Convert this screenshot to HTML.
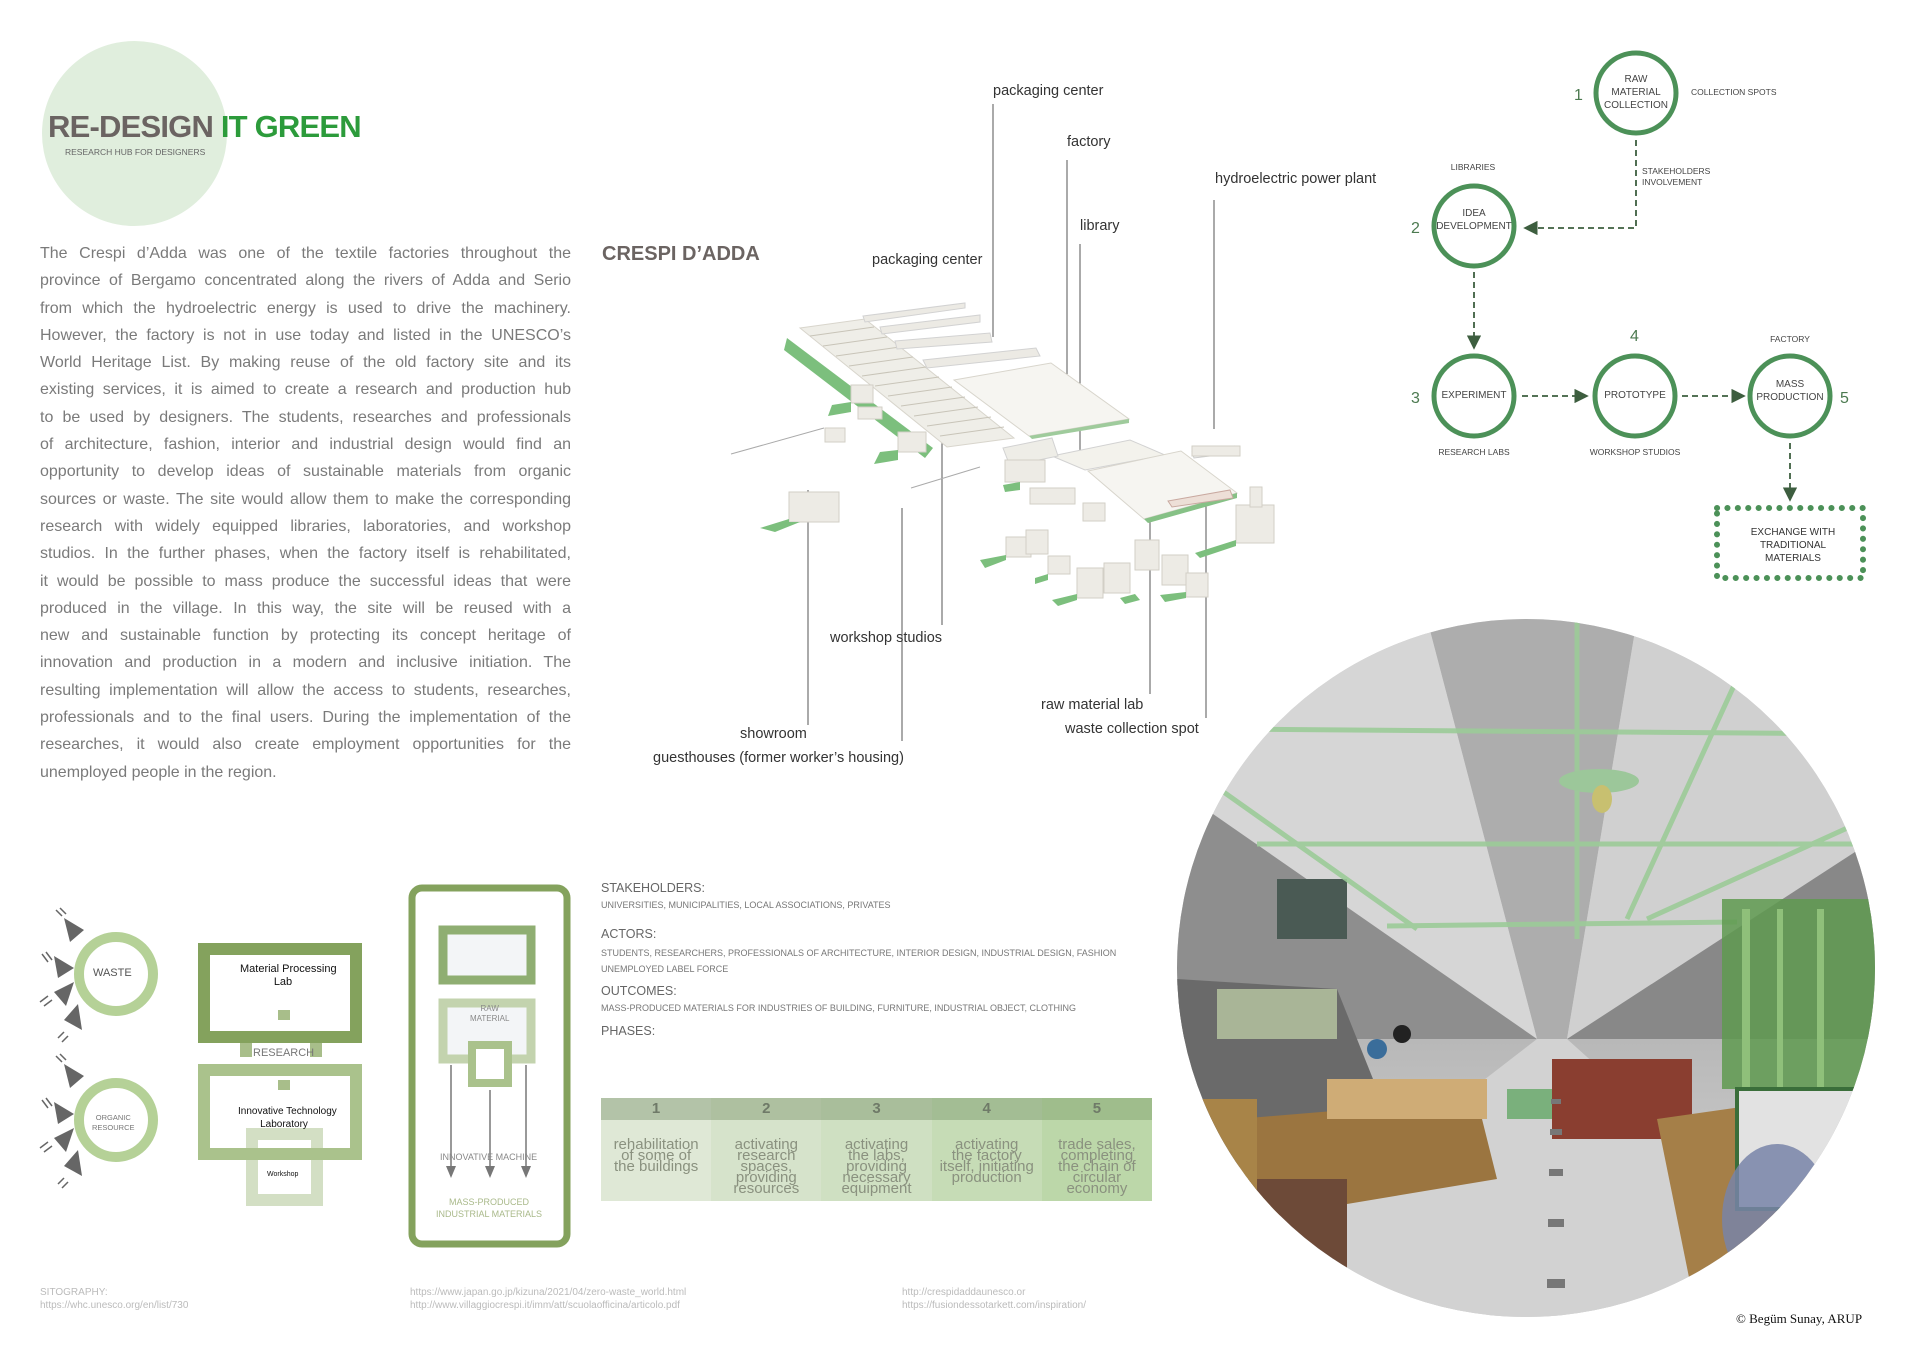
<!DOCTYPE html>
<html><head><meta charset="utf-8">
<style>
*{margin:0;padding:0;box-sizing:border-box}
body{width:1920px;height:1357px;background:#fff;position:relative;overflow:hidden;font-family:"Liberation Sans",sans-serif;color:#666}
.a{position:absolute;white-space:nowrap}
.para{position:absolute;left:40px;top:240px;width:531px;font-size:16px;color:#7a7a7a;line-height:27.3px}
.para div{text-align:justify;text-align-last:justify;white-space:nowrap;overflow:visible}
.para div.l{text-align-last:left}
.lbl{position:absolute;font-size:14.5px;color:#333;white-space:nowrap}
.fl{position:absolute;font-size:10px;color:#444;white-space:nowrap;text-align:center}
</style></head><body>

<!-- Title -->
<div class="a" style="left:42px;top:41px;width:185px;height:185px;border-radius:50%;background:#e0eedd"></div>
<div class="a" style="left:48px;top:109px;font-size:31px;font-weight:bold;color:#6b6462;letter-spacing:-0.8px">RE-DESIGN <span style="color:#2c9b3b">IT GREEN</span></div>
<div class="a" style="left:65px;top:147px;font-size:8.5px;color:#666">RESEARCH HUB FOR DESIGNERS</div>

<div class="para">
<div>The Crespi d’Adda was one of the textile factories throughout the</div>
<div>province of Bergamo concentrated along the rivers of Adda and Serio</div>
<div>from which the hydroelectric energy is used to drive the machinery.</div>
<div>However, the factory is not in use today and listed in the UNESCO’s</div>
<div>World Heritage List. By making reuse of the old factory site and its</div>
<div>existing services, it is aimed to create a research and production hub</div>
<div>to be used by designers. The students, researches and professionals</div>
<div>of architecture, fashion, interior and industrial design would find an</div>
<div>opportunity to develop ideas of sustainable materials from organic</div>
<div>sources or waste. The site would allow them to make the corresponding</div>
<div>research with widely equipped libraries, laboratories, and workshop</div>
<div>studios. In the further phases, when the factory itself is rehabilitated,</div>
<div>it would be possible to mass produce the successful ideas that were</div>
<div>produced in the village. In this way, the site will be reused with a</div>
<div>new and sustainable function by protecting its concept heritage of</div>
<div>innovation and production in a modern and inclusive initiation. The</div>
<div>resulting implementation will allow the access to students, researches,</div>
<div>professionals and to the final users. During the implementation of the</div>
<div>researches, it would also create employment opportunities for the</div>
<div class="l">unemployed people in the region.</div>
</div>

<!-- Map -->
<div class="a" style="left:602px;top:243px;font-size:20px;font-weight:bold;color:#6b6462">CRESPI D’ADDA</div>
<svg class="a" style="left:0;top:0" width="1920" height="1357">
<g stroke="#555" stroke-width="1">
<line x1="993" y1="104" x2="993" y2="337"/>
<line x1="1067" y1="160" x2="1067" y2="392"/>
<line x1="1214" y1="200" x2="1214" y2="429"/>
<line x1="1080" y1="244" x2="1080" y2="459"/>
<line x1="942" y1="416" x2="942" y2="625"/>
<line x1="808" y1="490" x2="808" y2="725"/>
<line x1="902" y1="508" x2="902" y2="741"/>
<line x1="1150" y1="459" x2="1150" y2="694"/>
<line x1="1206" y1="484" x2="1206" y2="718"/>
</g>
<g>
<line x1="731" y1="454" x2="824" y2="428" stroke="#aaa"/>
<line x1="911" y1="488" x2="980" y2="467" stroke="#aaa"/>
<polygon points="787,338 933,448 925,458 784,350" fill="#7cbf7d"/>
<polygon points="800,328 865,319 1014,438 947,447" fill="#efeee8" stroke="#d8d5cc"/>
<g stroke="#c8c4b8" stroke-width="1">
<line x1="810" y1="336" x2="874" y2="327"/><line x1="823" y1="346" x2="887" y2="337"/><line x1="836" y1="356" x2="900" y2="347"/><line x1="849" y1="366" x2="913" y2="357"/><line x1="862" y1="376" x2="926" y2="367"/><line x1="875" y1="386" x2="939" y2="377"/><line x1="888" y1="396" x2="952" y2="387"/><line x1="901" y1="406" x2="965" y2="397"/><line x1="914" y1="416" x2="978" y2="407"/><line x1="927" y1="426" x2="991" y2="417"/><line x1="940" y1="436" x2="1004" y2="427"/>
</g>
<polygon points="863,316 965,303 965,308 865,322" fill="#eceae4" stroke="#d2d2d2"/>
<polygon points="880,327 980,315 980,322 882,334" fill="#eceae4" stroke="#d2d2d2"/>
<polygon points="895,341 990,333 992,342 897,349" fill="#eceae4" stroke="#d2d2d2"/>
<polygon points="923,360 1036,348 1040,356 927,368" fill="#eceae4" stroke="#d2d2d2"/>
<polygon points="954,380 1051,363 1129,419 1029,436" fill="#f6f5f1" stroke="#d8d5cc"/>
<polygon points="1029,436 1129,419 1129,423 1032,439" fill="#9fcb9c"/>
<polygon points="1052,456 1130,440 1165,455 1085,470" fill="#f3f2ec" stroke="#d2d2d2"/>
<polygon points="1088,471 1181,451 1237,493 1144,519" fill="#f6f5f1" stroke="#d8d5cc"/>
<polygon points="1144,519 1237,493 1237,498 1148,523" fill="#86c186"/>
<polygon points="1192,452 1234,446 1234,453 1194,458" fill="#f0f0f0" stroke="#ccc"/>
<polygon points="1168,501 1230,490 1233,498 1172,507" fill="#eddfd7" stroke="#c9a9a0"/>
<polygon points="1003,448 1052,438 1058,456 1010,466" fill="#eeede7" stroke="#d2d2d2"/>
<g fill="#edebe5" stroke="#d2cfc6">
<rect x="851" y="385" width="22" height="18"/><rect x="858" y="407" width="24" height="12"/>
<rect x="898" y="432" width="28" height="20"/><rect x="825" y="428" width="20" height="14"/>
<rect x="1005" y="460" width="40" height="22"/><rect x="1030" y="488" width="45" height="16"/>
<rect x="1083" y="503" width="22" height="18"/>
<rect x="789" y="492" width="50" height="30"/>
<rect x="1006" y="537" width="25" height="20"/><rect x="1026" y="530" width="22" height="24"/>
<rect x="1048" y="556" width="22" height="18"/>
<rect x="1077" y="568" width="26" height="30"/><rect x="1104" y="563" width="26" height="30"/>
<rect x="1135" y="540" width="24" height="30"/><rect x="1162" y="555" width="26" height="30"/><rect x="1186" y="573" width="22" height="24"/>
<rect x="1236" y="505" width="38" height="38"/><rect x="1250" y="487" width="12" height="20"/>
<rect x="1192" y="446" width="48" height="10"/>
</g>
<g fill="#7cbf7d">
<polygon points="832,405 851,402 851,412 828,416"/>
<polygon points="880,452 898,450 898,460 874,464"/>
<polygon points="760,528 789,519 789,522 800,522 775,532"/>
<polygon points="980,560 1006,555 1006,560 985,568"/>
<polygon points="1035,578 1048,574 1048,580 1035,584"/>
<polygon points="1052,600 1077,594 1077,600 1058,606"/>
<polygon points="1120,598 1135,594 1140,600 1125,604"/>
<polygon points="1160,595 1186,592 1186,598 1165,602"/>
<polygon points="1195,553 1236,540 1236,546 1200,558"/>
<polygon points="1003,485 1020,482 1020,490 1005,492"/>
</g>
</g>
</svg>
<div class="lbl" style="left:993px;top:83px">packaging center</div>
<div class="lbl" style="left:1067px;top:134px">factory</div>
<div class="lbl" style="left:1215px;top:171px">hydroelectric power plant</div>
<div class="lbl" style="left:1080px;top:218px">library</div>
<div class="lbl" style="left:872px;top:252px">packaging center</div>
<div class="lbl" style="left:830px;top:630px">workshop studios</div>
<div class="lbl" style="left:740px;top:726px">showroom</div>
<div class="lbl" style="left:653px;top:750px">guesthouses (former worker’s housing)</div>
<div class="lbl" style="left:1041px;top:697px">raw material lab</div>
<div class="lbl" style="left:1065px;top:721px">waste collection spot</div>

<!-- Flow diagram -->
<svg class="a" style="left:0;top:0" width="1920" height="1357">
<defs><marker id="ar" markerWidth="8" markerHeight="8" refX="7" refY="4" orient="auto"><path d="M0,0 L8,4 L0,8 z" fill="#3d5e3f"/></marker></defs>
<g fill="none" stroke="#4c9158" stroke-width="5">
<circle cx="1636" cy="93" r="40"/><circle cx="1474" cy="226" r="40"/>
<circle cx="1474" cy="396" r="40"/><circle cx="1635" cy="396" r="40"/><circle cx="1790" cy="396" r="40"/>
</g>
<g fill="none" stroke="#3d5e3f" stroke-width="1.8" stroke-dasharray="6,4">
<polyline points="1636,140 1636,228 1525,228" marker-end="url(#ar)"/>
<line x1="1474" y1="272" x2="1474" y2="348" marker-end="url(#ar)"/>
<line x1="1522" y1="396" x2="1587" y2="396" marker-end="url(#ar)"/>
<line x1="1682" y1="396" x2="1744" y2="396" marker-end="url(#ar)"/>
<line x1="1790" y1="443" x2="1790" y2="500" marker-end="url(#ar)"/>
</g>
<rect x="1717" y="508" width="146" height="70" fill="none" stroke="#4c9158" stroke-width="6" stroke-dasharray="0.1,10.3" stroke-linecap="round"/>
<g fill="#4c7a50" font-family="Liberation Sans" font-size="16">
<text x="1574" y="100">1</text><text x="1411" y="233">2</text><text x="1411" y="403">3</text><text x="1630" y="341">4</text><text x="1840" y="403">5</text>
</g>
</svg>
<div class="fl" style="left:1596px;top:73px;width:80px;line-height:13px">RAW<br>MATERIAL<br>COLLECTION</div>
<div class="fl" style="left:1691px;top:87px;font-size:8.5px">COLLECTION SPOTS</div>
<div class="fl" style="left:1440px;top:162px;font-size:8.5px;width:66px">LIBRARIES</div>
<div class="fl" style="left:1642px;top:166px;font-size:8.5px;text-align:left;line-height:11px">STAKEHOLDERS<br>INVOLVEMENT</div>
<div class="fl" style="left:1430px;top:207px;width:88px;line-height:13px">IDEA<br>DEVELOPMENT</div>
<div class="fl" style="left:1430px;top:390px;width:88px">EXPERIMENT</div>
<div class="fl" style="left:1591px;top:390px;width:88px">PROTOTYPE</div>
<div class="fl" style="left:1746px;top:378px;width:88px;line-height:13px">MASS<br>PRODUCTION</div>
<div class="fl" style="left:1750px;top:334px;font-size:8.5px;width:80px">FACTORY</div>
<div class="fl" style="left:1424px;top:447px;font-size:8.5px;width:100px">RESEARCH LABS</div>
<div class="fl" style="left:1582px;top:447px;font-size:8.5px;width:106px">WORKSHOP STUDIOS</div>
<div class="fl" style="left:1730px;top:526px;width:126px;line-height:13px;color:#333">EXCHANGE WITH<br>TRADITIONAL<br>MATERIALS</div>

<!-- Photo circle -->
<svg class="a" style="left:1177px;top:619px" width="698" height="698">
<defs>
<clipPath id="cc"><circle cx="349" cy="349" r="349"/></clipPath>
<linearGradient id="flr" x1="0" y1="0" x2="0" y2="1"><stop offset="0" stop-color="#b8b8b8"/><stop offset="1" stop-color="#dadada"/></linearGradient>
</defs>
<g clip-path="url(#cc)">
<rect width="698" height="698" fill="#cfcfcf"/>
<polygon points="250,0 460,0 390,420 360,420" fill="#9e9e9e" opacity="0.7"/>
<polygon points="0,0 250,0 360,420 0,350" fill="#d6d6d6"/>
<polygon points="460,0 698,0 698,300 390,420" fill="#d0d0d0"/>
<polygon points="0,170 360,420 0,420" fill="#8e8e8e"/>
<polygon points="698,220 390,420 698,420" fill="#888"/>
<polygon points="0,420 698,420 698,698 0,698" fill="url(#flr)"/>
<polygon points="360,420 390,420 700,698 0,698" fill="#d2d2d2"/>
<polygon points="0,360 160,370 220,520 0,560" fill="#6a6a6a"/>
<rect x="40" y="370" width="120" height="50" fill="#a9b597"/>
<rect x="100" y="260" width="70" height="60" fill="#4a5a54"/>
<g stroke="#9ccb98" stroke-width="5" fill="none" opacity="0.9">
<line x1="40" y1="110" x2="698" y2="115"/><line x1="80" y1="225" x2="698" y2="225"/><line x1="210" y1="307" x2="560" y2="303"/>
<line x1="400" y1="0" x2="400" y2="320"/><line x1="560" y1="60" x2="450" y2="300"/><line x1="690" y1="200" x2="470" y2="300"/>
<line x1="0" y1="140" x2="240" y2="310"/>
</g>
<ellipse cx="422" cy="162" rx="40" ry="12" fill="#9cc79a"/>
<ellipse cx="425" cy="180" rx="10" ry="14" fill="#c8c070"/>
<rect x="545" y="280" width="153" height="190" fill="#5f9a50" opacity="0.85"/>
<rect x="565" y="290" width="8" height="180" fill="#8fc07a"/><rect x="600" y="290" width="6" height="180" fill="#8fc07a"/><rect x="640" y="290" width="7" height="180" fill="#8fc07a"/>
<polygon points="60,500 300,480 320,560 80,600" fill="#9b7540"/>
<rect x="150" y="460" width="160" height="40" fill="#cfac76"/>
<rect x="60" y="560" width="110" height="90" fill="#6d4a38"/>
<rect x="0" y="480" width="80" height="150" fill="#a88448"/>
<rect x="330" y="470" width="45" height="30" fill="#7ab07c"/>
<rect x="375" y="440" width="140" height="80" fill="#8a3e30"/>
<polygon points="480,500 620,480 640,660 520,698" fill="#a57f48"/>
<rect x="560" y="470" width="120" height="120" fill="#e2e2e2" stroke="#3a6e3a" stroke-width="4"/>
<ellipse cx="600" cy="600" rx="55" ry="75" fill="#7884a8" opacity="0.85"/>
<circle cx="200" cy="430" r="10" fill="#3a6d9a"/><circle cx="225" cy="415" r="9" fill="#222"/>
<g fill="#777"><rect x="374" y="480" width="10" height="5"/><rect x="373" y="510" width="12" height="6"/><rect x="372" y="550" width="14" height="7"/><rect x="371" y="600" width="16" height="8"/><rect x="370" y="660" width="18" height="9"/></g>
</g>
</svg>

<!-- Bottom left diagrams -->
<svg class="a" style="left:0;top:860px" width="600" height="420">
<g fill="none" stroke="#b5d197" stroke-width="10">
<circle cx="116" cy="114" r="37"/><circle cx="116" cy="260" r="37"/>
</g>
<g fill="#666">
<polygon points="64,58 84,70 70,82"/><polygon points="54,96 74,108 58,118"/><polygon points="54,132 74,122 66,146"/><polygon points="64,160 78,144 82,170"/>
<polygon points="64,204 84,216 70,228"/><polygon points="54,242 74,254 58,264"/><polygon points="54,278 74,268 66,292"/><polygon points="64,306 78,290 82,316"/>
</g>
<g stroke="#666" stroke-width="1.5">
<line x1="56" y1="50" x2="62" y2="56"/><line x1="60" y1="48" x2="66" y2="54"/><line x1="42" y1="94" x2="48" y2="102"/><line x1="46" y1="92" x2="52" y2="100"/><line x1="40" y1="142" x2="48" y2="136"/><line x1="44" y1="146" x2="52" y2="140"/><line x1="58" y1="178" x2="64" y2="172"/><line x1="62" y1="182" x2="68" y2="176"/>
<line x1="56" y1="196" x2="62" y2="202"/><line x1="60" y1="194" x2="66" y2="200"/><line x1="42" y1="240" x2="48" y2="248"/><line x1="46" y1="238" x2="52" y2="246"/><line x1="40" y1="288" x2="48" y2="282"/><line x1="44" y1="292" x2="52" y2="286"/><line x1="58" y1="324" x2="64" y2="318"/><line x1="62" y1="328" x2="68" y2="322"/>
</g>
<rect x="252" y="274" width="65" height="66" fill="none" stroke="#d3dfc4" stroke-width="12"/>
<rect x="204" y="210" width="152" height="84" fill="none" stroke="#aac28c" stroke-width="12"/>
<rect x="204" y="89" width="152" height="88" fill="none" stroke="#84a25d" stroke-width="12"/>
<rect x="240" y="183" width="12" height="14" fill="#a8be8a"/><rect x="310" y="183" width="12" height="14" fill="#a8be8a"/>
<rect x="278" y="150" width="12" height="10" fill="#a8be8a"/><rect x="278" y="220" width="12" height="10" fill="#a8be8a"/>
<rect x="412" y="28" width="155" height="356" rx="10" fill="none" stroke="#84a25d" stroke-width="7"/>
<rect x="443" y="70" width="88" height="50" fill="#f3f5f7" stroke="#8fae72" stroke-width="9"/>
<rect x="443" y="143" width="88" height="56" fill="#f3f5f7" stroke="#c3d3ae" stroke-width="9"/>
<rect x="472" y="185" width="36" height="38" fill="#fff" stroke="#aac28c" stroke-width="8"/>
<g stroke="#999" stroke-width="2" fill="#777">
<line x1="451" y1="205" x2="451" y2="310"/><line x1="490" y1="230" x2="490" y2="310"/><line x1="526" y1="205" x2="526" y2="310"/>
<polygon points="446,306 456,306 451,318" stroke="none"/><polygon points="485,306 495,306 490,318" stroke="none"/><polygon points="521,306 531,306 526,318" stroke="none"/>
</g>
</svg>
<div class="a" style="left:93px;top:967px;font-size:11px;color:#555">WASTE</div>
<div class="a" style="left:92px;top:1113px;font-size:7.5px;color:#777;text-align:center;line-height:10px">ORGANIC<br>RESOURCE</div>
<div class="a" style="left:240px;top:963px;font-size:11px;color:#111;text-align:center;width:86px;line-height:13px">Material Processing<br>Lab</div>
<div class="a" style="left:253px;top:1047px;font-size:11px;color:#777">RESEARCH</div>
<div class="a" style="left:238px;top:1105px;font-size:10px;color:#111;text-align:center;width:92px;line-height:13px">Innovative Technology<br>Laboratory</div>
<div class="a" style="left:267px;top:1171px;font-size:7px;color:#111">Workshop</div>
<div class="a" style="left:470px;top:1004px;font-size:8px;color:#888;text-align:center;line-height:10px">RAW<br>MATERIAL</div>
<div class="a" style="left:440px;top:1152px;font-size:9px;color:#888">INNOVATIVE MACHINE</div>
<div class="a" style="left:430px;top:1196px;font-size:9px;color:#a9b98a;text-align:center;width:118px;line-height:12px">MASS-PRODUCED<br>INDUSTRIAL MATERIALS</div>

<!-- Stakeholders text -->
<div class="a" style="left:601px;top:881px;font-size:12.5px;color:#666">STAKEHOLDERS:</div>
<div class="a" style="left:601px;top:900px;font-size:9px;color:#777">UNIVERSITIES, MUNICIPALITIES, LOCAL ASSOCIATIONS, PRIVATES</div>
<div class="a" style="left:601px;top:927px;font-size:12.5px;color:#666">ACTORS:</div>
<div class="a" style="left:601px;top:948px;font-size:9px;color:#777">STUDENTS, RESEARCHERS, PROFESSIONALS OF ARCHITECTURE, INTERIOR DESIGN, INDUSTRIAL DESIGN, FASHION</div>
<div class="a" style="left:601px;top:964px;font-size:9px;color:#777">UNEMPLOYED LABEL FORCE</div>
<div class="a" style="left:601px;top:984px;font-size:12.5px;color:#666">OUTCOMES:</div>
<div class="a" style="left:601px;top:1003px;font-size:9px;color:#777">MASS-PRODUCED MATERIALS FOR INDUSTRIES OF BUILDING, FURNITURE, INDUSTRIAL OBJECT, CLOTHING</div>
<div class="a" style="left:601px;top:1024px;font-size:12.5px;color:#666">PHASES:</div>

<div class="a" style="left:601px;top:1098px;width:551px;height:103px;display:flex">
<div style="flex:1;background:#dfe8d6"><div style="background:#b3c3a8;height:22px;text-align:center;font-weight:bold;font-size:15px;color:#6f7a68;line-height:22px">1</div><div style="text-align:center;font-size:15px;line-height:11px;color:#8a917f;padding-top:19px">rehabilitation<br>of some of<br>the buildings</div></div>
<div style="flex:1;background:#d6e3cb"><div style="background:#aec0a0;height:22px;text-align:center;font-weight:bold;font-size:15px;color:#6f7a68;line-height:22px">2</div><div style="text-align:center;font-size:15px;line-height:11px;color:#8a917f;padding-top:19px">activating<br>research<br>spaces,<br>providing<br>resources</div></div>
<div style="flex:1;background:#cfe0c2"><div style="background:#a9be9b;height:22px;text-align:center;font-weight:bold;font-size:15px;color:#6f7a68;line-height:22px">3</div><div style="text-align:center;font-size:15px;line-height:11px;color:#8a917f;padding-top:19px">activating<br>the labs,<br>providing<br>necessary<br>equipment</div></div>
<div style="flex:1;background:#c6dcb6"><div style="background:#a3bd94;height:22px;text-align:center;font-weight:bold;font-size:15px;color:#6f7a68;line-height:22px">4</div><div style="text-align:center;font-size:15px;line-height:11px;color:#8a917f;padding-top:19px">activating<br>the factory<br>itself, initiating<br>production</div></div>
<div style="flex:1;background:#bcd7a9"><div style="background:#9fbd8c;height:22px;text-align:center;font-weight:bold;font-size:15px;color:#6f7a68;line-height:22px">5</div><div style="text-align:center;font-size:15px;line-height:11px;color:#8a917f;padding-top:19px">trade sales,<br>completing<br>the chain of<br>circular<br>economy</div></div>
</div>

<!-- Footer -->
<div class="a" style="left:40px;top:1286px;font-size:10px;color:#bbb;line-height:13px">SITOGRAPHY:<br>https://whc.unesco.org/en/list/730</div>
<div class="a" style="left:410px;top:1286px;font-size:10px;color:#bbb;line-height:13px">https://www.japan.go.jp/kizuna/2021/04/zero-waste_world.html<br>http://www.villaggiocrespi.it/imm/att/scuolaofficina/articolo.pdf</div>
<div class="a" style="left:902px;top:1286px;font-size:10px;color:#bbb;line-height:13px">http://crespidaddaunesco.or<br>https://fusiondessotarkett.com/inspiration/</div>
<div class="a" style="left:1736px;top:1311px;font-size:13px;color:#111;font-family:'Liberation Serif',serif">© Begüm Sunay, ARUP</div>
</body></html>
